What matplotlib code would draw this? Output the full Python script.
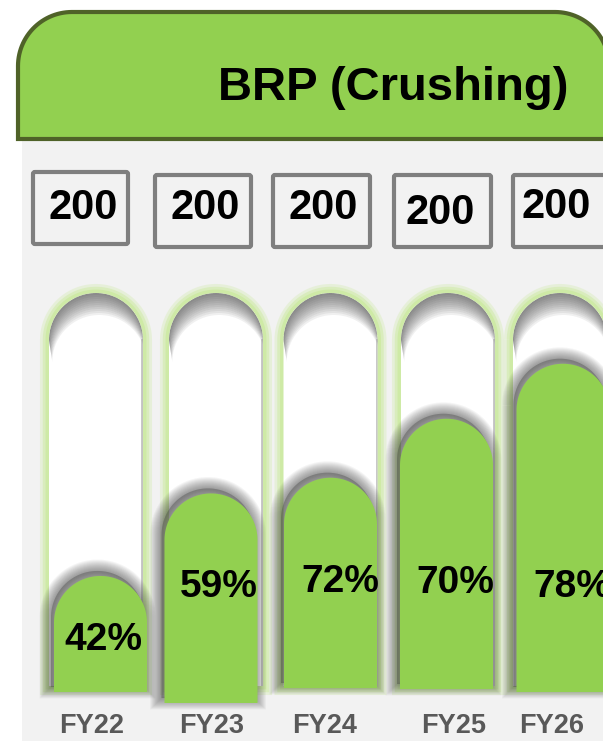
import numpy as np
import matplotlib.pyplot as plt
from matplotlib.patches import Polygon, FancyBboxPatch, Rectangle

plt.rcParams['font.family'] = ['Liberation Sans', 'DejaVu Sans']

# data
years = ['FY22', 'FY23', 'FY24', 'FY25', 'FY26']
capacity = [200, 200, 200, 200, 200]
utilisation = [42, 59, 72, 70, 78]
fill_level = [28, 49, 53, 68, 82]   # drawn bar level, % of tube height

# layout (pixels, y down)
W, H = 603, 741
tube_x = [96, 216, 330.5, 448, 560]
fill_x = [100.5, 211, 330.5, 446.5, 563]
fill_bot = [692, 703, 688, 689, 692]
tube_w, fill_w = 94, 93
tube_top, tube_bot = 293, 686
box_x = [(33, 128), (155, 251), (273, 370), (394, 491), (513, 610)]
box_y = [(172, 244), (175, 247), (175, 247), (175, 247), (175, 247)]
cap_txt = [(83, 208), (205, 208), (323, 208), (440, 213), (556, 207)]
pct_txt = [(103, 640), (219, 587), (340, 582), (455, 583), (572, 587)]
year_x = [92, 212, 325, 454, 552]

green = '#92d050'


def capsule(xc, w, ytop, ybot, n=80):
    r = w / 2
    cy = ytop + r
    t = np.linspace(np.pi, 2 * np.pi, n)
    xs = np.r_[xc + r * np.cos(t), xc + r, xc - r]
    ys = np.r_[cy + r * np.sin(t), ybot, ybot]
    return np.c_[xs, ys]


fig = plt.figure(figsize=(W / 100, H / 100), dpi=100)
ax = fig.add_axes([0, 0, 1, 1])
ax.set_xlim(0, W)
ax.set_ylim(H, 0)
ax.axis('off')

# gray panel
ax.add_patch(Rectangle((22, 139), W - 22, H - 139, fc='#f2f2f2', ec='none', zorder=0))

# header with rounded top corners
R = 54
t = np.linspace(np.pi, 1.5 * np.pi, 30)
left = np.c_[18 + R + R * np.cos(t), 12 + R + R * np.sin(t)]
t2 = np.linspace(1.5 * np.pi, 2 * np.pi, 30)
right = np.c_[609 - R + R * np.cos(t2), 12 + R + R * np.sin(t2)]
hdr = np.vstack([[18, 139], left, right, [609, 139]])
ax.add_patch(Polygon(hdr, closed=True, fc=green, ec='#4f6228', lw=3, zorder=1))
ax.text(393, 88, 'BRP (Crushing)', fontsize=34, fontweight='bold',
        ha='center', va='center', zorder=2)

# capacity boxes
for i in range(len(years)):
    (x0, x1), (y0, y1) = box_x[i], box_y[i]
    ax.add_patch(FancyBboxPatch((x0, y0), x1 - x0, y1 - y0,
                                boxstyle='round,pad=0,rounding_size=2',
                                fc='#f2f2f2', ec='#7f7f7f', lw=3, zorder=2))
    ax.text(cap_txt[i][0], cap_txt[i][1], str(capacity[i]), fontsize=30,
            fontweight='bold', ha='center', va='center', zorder=3)

# tubes and fills
for i in range(len(years)):
    pts = capsule(tube_x[i], tube_w, tube_top, tube_bot)
    for lw, a in [(13, 0.3), (9, 0.5), (5, 0.85)]:
        ax.add_patch(Polygon(pts, closed=True, fc='none', ec='#cdeaa2',
                             lw=lw, alpha=a, zorder=1.5))
    tube = Polygon(pts, closed=True, fc='white', ec='none', zorder=2)
    ax.add_patch(tube)
    # inner shadow: stacked crescents under the top arc
    arc = pts[:-2]
    for d in range(2, 24, 2):
        cres = np.vstack([arc, (arc + [d * 0.15, d])[::-1]])
        p = Polygon(cres, closed=True, fc='#3c3c3c', ec='none',
                    alpha=0.075, zorder=3)
        ax.add_patch(p)
        p.set_clip_path(tube)
    r = tube_w / 2
    ln, = ax.plot([tube_x[i] + r - 1, tube_x[i] + r - 1],
                  [tube_top + r, tube_bot], color='#9a9a9a', lw=2,
                  alpha=0.6, zorder=3)
    ln.set_clip_path(tube)

    ytop = tube_bot - fill_level[i] / 100 * (tube_bot - tube_top)
    fpts = capsule(fill_x[i], fill_w, ytop, fill_bot[i])
    # soft drop shadow up-left of the fill
    for k in range(12):
        ax.add_patch(Polygon(fpts + [-3, -5], closed=True, fc='none',
                             ec='#3a3a3a', lw=1 + k * 1.4, alpha=0.05,
                             zorder=4))
    ax.add_patch(Polygon(fpts + [-3, -5], closed=True, fc='#3a3a3a',
                         ec='none', alpha=0.35, zorder=4))
    ax.add_patch(Polygon(fpts, closed=True, fc=green, ec='none', zorder=5))
    ax.text(pct_txt[i][0], pct_txt[i][1], f'{utilisation[i]}%', fontsize=28,
            fontweight='bold', ha='center', va='center', zorder=6)
    ax.text(year_x[i], 726, years[i], fontsize=19.5, fontweight='bold',
            color='#595959', ha='center', va='center', zorder=6)

fig.savefig('out.png', dpi=100)
